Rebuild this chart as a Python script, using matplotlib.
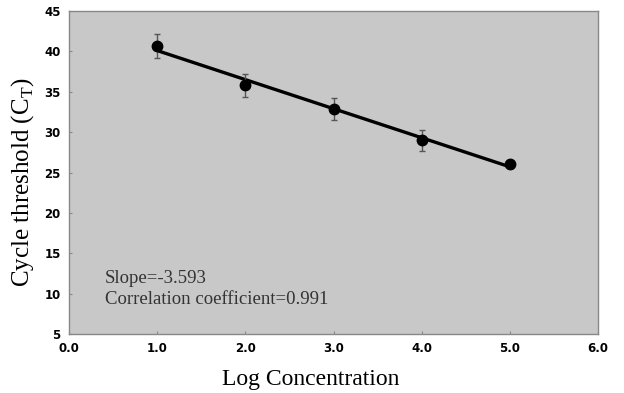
import matplotlib
matplotlib.use("Agg")
import matplotlib.pyplot as plt
import numpy as np

# ---- data ----
log_conc = [1.0, 2.0, 3.0, 4.0, 5.0]
ct_mean = [40.7, 35.8, 32.9, 29.0, 26.1]
ct_err = [1.5, 1.4, 1.35, 1.3, 0.5]
x_ticks = [0.0, 1.0, 2.0, 3.0, 4.0, 5.0, 6.0]
y_ticks = [5, 10, 15, 20, 25, 30, 35, 40, 45]
slope_text = "Slope=-3.593"
corr_text = "Correlation coefficient=0.991"

serif = ["Liberation Serif", "DejaVu Serif"]

fig = plt.figure(figsize=(6.24, 3.93), dpi=100)
ax = fig.add_axes([0.1106, 0.150, 0.848, 0.822])
ax.set_facecolor("#c8c8c8")

# regression line over the measured range
m, b = np.polyfit(log_conc, ct_mean, 1)
xs = np.array([log_conc[0], log_conc[-1]])
ax.plot(xs, m * xs + b, color="black", lw=2.4, zorder=3)

ax.errorbar(log_conc, ct_mean, yerr=ct_err, fmt="o", color="black",
            ms=7.5, ecolor="#555555", elinewidth=1, capsize=2, zorder=4)

ax.set_xlim(0, 6)
ax.set_ylim(5, 45)
ax.set_xticks(x_ticks)
ax.set_xticklabels([f"{v:.1f}" for v in x_ticks])
ax.set_yticks(y_ticks)
ax.tick_params(direction="in", length=2, color="#888888", labelsize=8.5, pad=6)
for lbl in ax.get_xticklabels() + ax.get_yticklabels():
    lbl.set_fontweight("heavy")

for s in ax.spines.values():
    s.set_color("#888888")
    s.set_linewidth(1.0)

ax.set_xlabel("Log Concentration", family=serif, fontsize=17, labelpad=10)
ax.xaxis.label.set_x(0.457)
ax.set_ylabel("Cycle threshold (C$_\\mathregular{T}$)", family=serif, fontsize=18, labelpad=6)
ax.yaxis.label.set_y(0.47)

ax.text(0.41, 11.9, slope_text, family=serif, fontsize=13.5, color="#333333", va="center")
ax.text(0.41, 9.3, corr_text, family=serif, fontsize=13.5, color="#333333", va="center")

fig.savefig("out.png", dpi=100)
